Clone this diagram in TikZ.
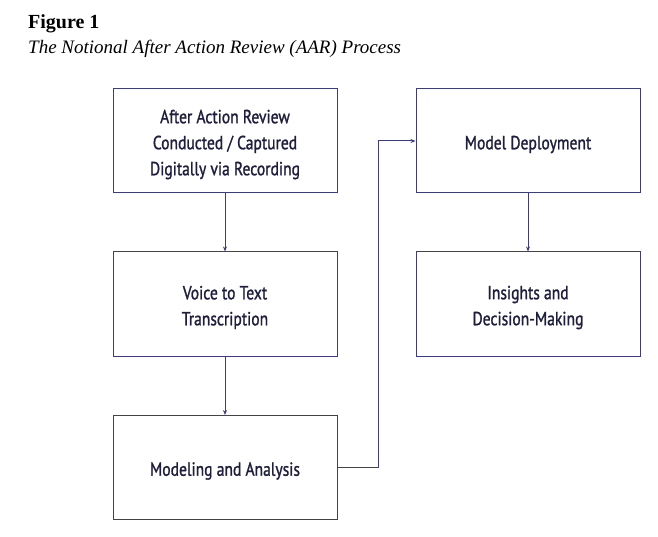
\documentclass[tikz,border=0pt]{standalone}
\usepackage{fontspec}
\setmainfont{Liberation Serif}
\setsansfont[FakeStretch=0.82,FakeBold=1.2]{PT Sans}
\usetikzlibrary{arrows.meta}
\definecolor{lineblue}{HTML}{3C3C82}
\definecolor{textnavy}{HTML}{1E1E3C}
\newcommand{\boxtext}[1]{\raisebox{-3.5pt}[\height][\depth]{\parbox{200pt}{\centering #1}}}
\tikzset{
  procbox/.style={draw=lineblue, line width=1pt, minimum width=224pt, minimum height=104pt,
    inner sep=0pt, align=center, text=textnavy, font=\sffamily\fontsize{19}{26}\selectfont},
  flow/.style={draw=lineblue, line width=1pt, -{Stealth[length=5pt,width=4pt]}}
}
\begin{document}
\begin{tikzpicture}[x=1pt,y=-1pt]
\useasboundingbox (0,0) rectangle (658,537);
\node[anchor=base west, inner sep=0pt, font=\bfseries\fontsize{20}{22}\selectfont] (title) at (28,29) {Figure 1};
\node[anchor=base west, inner sep=0pt, font=\itshape\fontsize{19}{22}\selectfont] (subtitle) at (28,54) {The Notional After Action Review (AAR) Process};
\node[procbox] (a) at (225,141) {\boxtext{After Action Review\\Conducted / Captured\\Digitally via Recording}};
\node[procbox] (b) at (225,304) {\boxtext{Voice to Text\\Transcription}};
\node[procbox] (c) at (225,467.5) {\boxtext{Modeling and Analysis}};
\node[procbox] (d) at (528,141) {\boxtext{Model Deployment}};
\node[procbox] (e) at (528,304) {\boxtext{Insights and\\Decision-Making}};
\draw[flow] (a.south) -- (b.north);
\draw[flow] (b.south) -- (c.north);
\draw[flow] (d.south) -- (e.north);
\coordinate (k1) at (378,467.5);
\coordinate (k2) at (378,141);
\draw[flow] (c.east) -- (k1) -- (k2) -- (d.west);
\end{tikzpicture}
\end{document}
